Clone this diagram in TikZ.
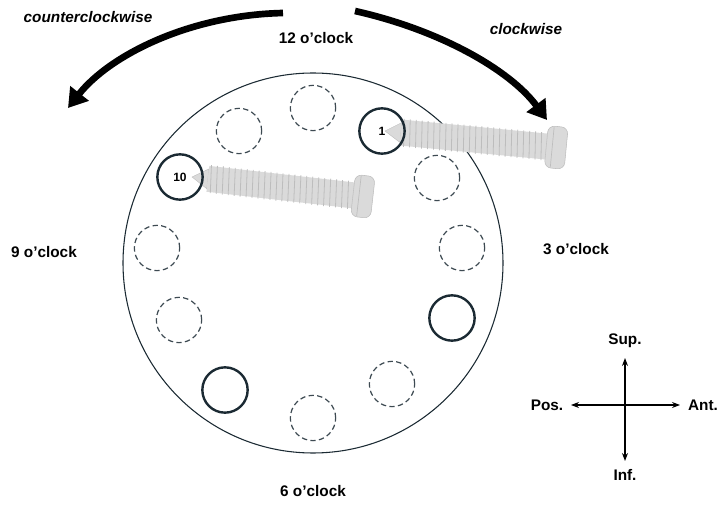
\documentclass[tikz,border=0pt]{standalone}
\usepackage{fontspec}
\setmainfont{Liberation Sans}
\usetikzlibrary{arrows.meta}
\definecolor{ring}{HTML}{1B2A33}
\definecolor{scr}{HTML}{DADADA}
\definecolor{scrd}{HTML}{BDBDBD}
\begin{document}
\begin{tikzpicture}[x=0.75pt,y=-0.75pt,
  lbl/.style={font=\bfseries\fontsize{11.5}{13}\selectfont},
  hole/.style={circle,draw=ring!85,dash pattern=on 4pt off 2.5pt,line width=0.9pt,inner sep=0,minimum size=34pt},
  used/.style={circle,draw=ring,line width=1.8pt,inner sep=0,minimum size=34pt,font=\bfseries\fontsize{9}{10}\selectfont},
  bigarrow/.style={line width=5pt,-{Triangle[length=14pt,width=17pt]}},
  ax/.style={line width=0.8pt,{Stealth[length=6pt]}-{Stealth[length=6pt]}},
  screw/.pic={
    \fill[scr,draw=scrd,line width=0.3pt] (0,0) -- (16,-10) -- (16,10) -- cycle;
    \fill[scr] (16,-13) rectangle (162,13);
    \foreach \i in {0,...,23} {\draw[scrd,line width=0.6pt] (18+6*\i,-14) -- (20+6*\i,14);}
    \fill[scr,draw=scrd,line width=0.4pt,rounded corners=5pt] (162,-21) rectangle (182,21);
    \draw[scrd,line width=0.5pt] (168,-20) -- (168,20);
  }]
\useasboundingbox (0,0) rectangle (726,506);
\coordinate (plate) at (313,263);
\draw[ring,line width=0.8pt] (plate) circle [radius=190];
% holes
\node[hole] (h12) at (313,108) {};
\node[hole] (h2) at (437,178) {};
\node[hole] (h3) at (462,248) {};
\node[used] (h4) at (452,318) {};
\node[hole] (h5) at (392,384) {};
\node[hole] (h6) at (313,418) {};
\node[used] (h7) at (225,390) {};
\node[hole] (h8) at (179,320) {};
\node[hole] (h9) at (157,248) {};
\node[hole] (h11) at (239,131) {};
% screws
\pic[rotate=-5.5] at (385,131) {screw};
\pic[rotate=-6.5] at (192,177) {screw};
\node[used] (h1) at (382,131) {1};
\node[used] (h10) at (180,177) {10};
% labels
\node[lbl] (t12) at (316,38) {12 o’clock};
\node[lbl] (t3) at (576,249) {3 o’clock};
\node[lbl] (t6) at (313,491) {6 o’clock};
\node[lbl] (t9) at (44,252) {9 o’clock};
\node[lbl,font=\bfseries\itshape\fontsize{11.5}{13}\selectfont] (ccw) at (88,17) {counterclockwise};
\node[lbl,font=\bfseries\itshape\fontsize{11.5}{13}\selectfont] (cw) at (526,29) {clockwise};
% arrows
\coordinate (a1s) at (283,13);
\coordinate (a1e) at (68,108);
\coordinate (a2s) at (355,11);
\coordinate (a2e) at (547,120);
\draw[bigarrow] (a1s) .. controls (190,15) and (110,55) .. (a1e);
\draw[bigarrow] (a2s) .. controls (440,30) and (510,70) .. (a2e);
% compass
\coordinate (c) at (625,405);
\coordinate (cu) at (625,358);
\coordinate (cd) at (625,461);
\coordinate (cl) at (571,405);
\coordinate (cr) at (680,405);
\draw[ax] (cu) -- (cd);
\draw[ax] (cl) -- (cr);
\node[lbl] (sup) at (625,341) {Sup.};
\node[lbl] (inf) at (625,475) {Inf.};
\node[lbl] (pos) at (547,405) {Pos.};
\node[lbl] (ant) at (703,405) {Ant.};
\end{tikzpicture}
\end{document}
